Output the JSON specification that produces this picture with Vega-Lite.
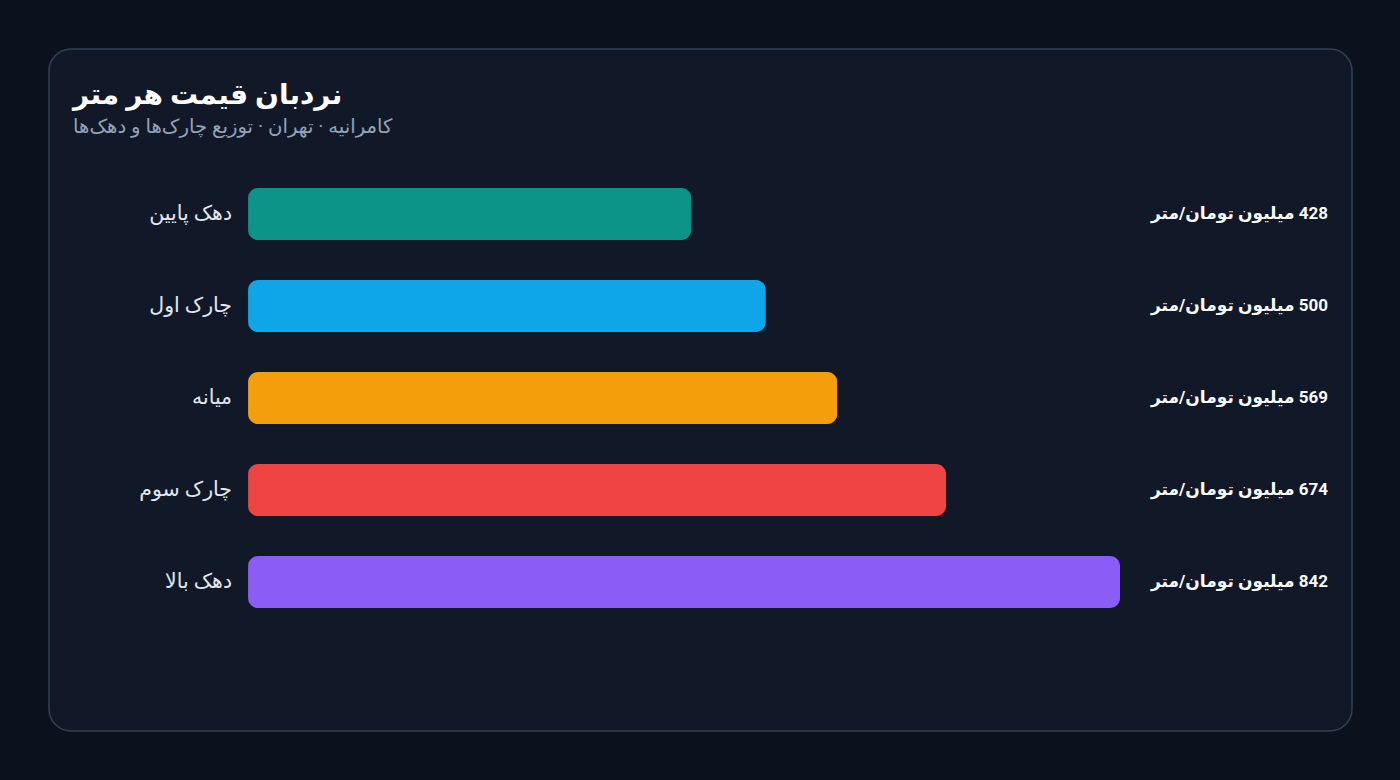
{
  "$schema": "https://vega.github.io/schema/vega-lite/v6.json",
  "autosize": {"type": "none"},
  "width": 1303,
  "height": 682,
  "padding": {"left": 49, "top": 49, "right": 48, "bottom": 49},
  "background": "#0b111d",
  "title": {
    "text": "نردبان قیمت هر متر",
    "subtitle": "کامرانیه · تهران · توزیع چارک‌ها و دهک‌ها",
    "anchor": "start",
    "frame": "group",
    "orient": "top",
    "offset": -88,
    "dx": 24,
    "font": "Roboto, 'DejaVu Sans', sans-serif",
    "fontSize": 28,
    "fontWeight": "bold",
    "color": "#ffffff",
    "subtitleFont": "Roboto, 'DejaVu Sans', sans-serif",
    "subtitleFontSize": 19.7,
    "subtitleColor": "#94a3b8",
    "subtitlePadding": 7
  },
  "data": {
    "values": [
      {"group": "دهک پایین", "value": 428},
      {"group": "چارک اول", "value": 500},
      {"group": "میانه", "value": 569},
      {"group": "چارک سوم", "value": 674},
      {"group": "دهک بالا", "value": 842}
    ]
  },
  "transform": [
    {"calculate": "'\u202b' + datum.value + ' میلیون تومان/متر' + '\u202c'", "as": "label"}
  ],
  "encoding": {
    "y": {
      "field": "group",
      "type": "nominal",
      "sort": null,
      "axis": null,
      "scale": {"range": [139, 559], "paddingInner": 0.4348, "paddingOuter": 0}
    }
  },
  "layer": [
    {
      "mark": {"type": "bar", "cornerRadius": 10},
      "encoding": {
        "x": {
          "field": "value",
          "type": "quantitative",
          "axis": null,
          "scale": {"domain": [-192.2, 1066], "nice": false, "zero": false}
        },
        "color": {
          "field": "group",
          "type": "nominal",
          "sort": null,
          "legend": null,
          "scale": {"range": ["#0d9488", "#0ea5e9", "#f59e0b", "#ef4444", "#8b5cf6"]}
        }
      }
    },
    {
      "mark": {
        "type": "text",
        "align": "right",
        "baseline": "middle",
        "dx": -16,
        "font": "Roboto, 'DejaVu Sans', sans-serif",
        "fontSize": 20.5,
        "color": "#e2e8f0"
      },
      "encoding": {
        "x": {"datum": 0, "type": "quantitative"},
        "text": {"field": "group"}
      }
    },
    {
      "mark": {
        "type": "text",
        "align": "right",
        "baseline": "middle",
        "dx": -24,
        "font": "Roboto, 'DejaVu Sans', sans-serif",
        "fontSize": 17,
        "fontWeight": "bold",
        "color": "#f8fafc"
      },
      "encoding": {
        "x": {"value": "width"},
        "text": {"field": "label"}
      }
    }
  ],
  "config": {
    "view": {"fill": "#111827", "stroke": "#334155", "strokeWidth": 1.5, "cornerRadius": 22}
  }
}
